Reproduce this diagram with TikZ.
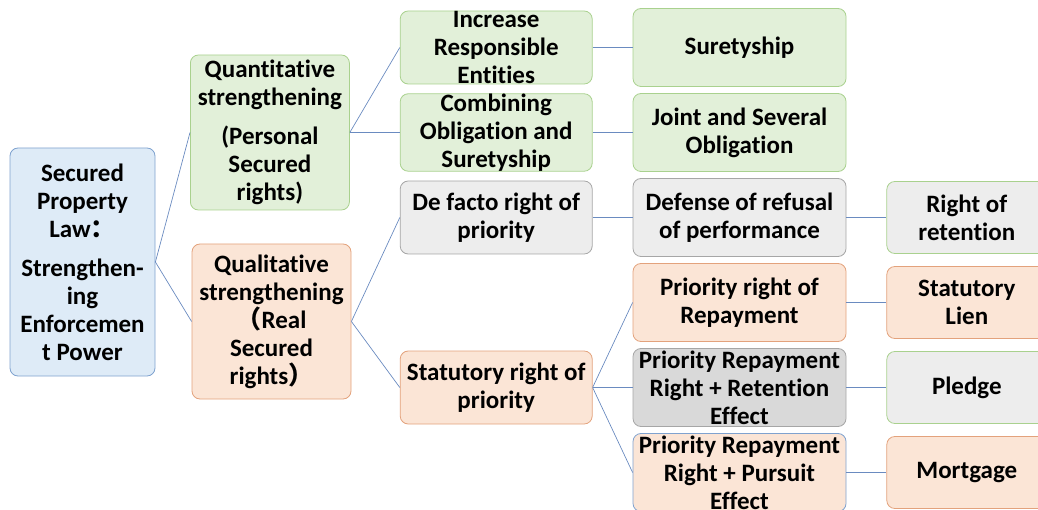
\documentclass[tikz,border=0pt]{standalone}
\usepackage{fontspec}
\setmainfont{Carlito}[Ligatures=NoCommon]
\newfontfamily\cjk{Noto Sans CJK SC}
\usetikzlibrary{positioning}

\definecolor{bluefill}{HTML}{DEEBF7}
\definecolor{blueline}{HTML}{7FA2CF}
\definecolor{greenfill}{HTML}{E2F0D9}
\definecolor{greenline}{HTML}{A9D18E}
\definecolor{orangefill}{HTML}{FBE5D6}
\definecolor{orangeline}{HTML}{E3A27C}
\definecolor{greyfill}{HTML}{EDEDED}
\definecolor{greyline}{HTML}{A6A6A6}
\definecolor{darkfill}{HTML}{D9D9D9}
\definecolor{linkcolor}{HTML}{6A8BC0}

\begin{document}
\begin{tikzpicture}[x=1pt,y=-1pt,node distance=85pt,
                    every node/.style={draw,align=center,inner sep=0pt,
                      rounded corners=8pt,line width=0.8pt,
                      font=\fontsize{25}{28}\selectfont\bfseries}]
  \tikzstyle{bluebox}=[fill=bluefill,draw=blueline]
  \tikzstyle{greenbox}=[fill=greenfill,draw=greenline]
  \tikzstyle{orangebox}=[fill=orangefill,draw=orangeline]
  \tikzstyle{greybox}=[fill=greyfill,draw=greyline]
  \tikzstyle{darkbox}=[fill=darkfill,draw=greyline]
  \tikzstyle{outer}=[minimum width=213pt,minimum height=78pt]
  \tikzstyle{inner}=[minimum width=192pt,minimum height=73pt]
  \tikzstyle{leaf}=[minimum width=160pt,minimum height=72pt]
  \tikzstyle{link}=[draw=linkcolor,line width=0.7pt]

  \useasboundingbox (0,0) rectangle (1038,510);

  % third column
  \node[greenbox,outer]  (sure) at (739.5,47.5) {Suretyship};
  \node[greenbox,outer]  (joint)   [below of=sure]    {Joint and Several\\Obligation};
  \node[greybox,outer]   (defense) [below of=joint]   {Defense of refusal\\of performance};
  \node[orangebox,outer] (prio)    [below of=defense] {Priority right of\\Repayment};
  \node[darkbox,outer]   (reten)   [below of=prio]    {Priority Repayment\\Right + Retention\\Effect};
  \node[orangebox,outer,draw=blueline] (pursuit) [below of=reten] {Priority Repayment\\Right + Pursuit\\Effect};

  % second column
  \node[greenbox,inner]  (incr)    [left=40pt of sure]    {Increase\\Responsible\\Entities};
  \node[greenbox,inner]  (comb)    [left=40pt of joint]   {Combining\\Obligation and\\Suretyship};
  \node[greybox,inner]   (defacto) [left=40pt of defense] {De facto right of\\priority};
  \node[orangebox,inner] (stat)    [left=40pt of reten]   {Statutory right of\\priority};

  % last column
  \node[greybox,leaf,draw=greenline] (retain) [right=40pt of defense] {Right of\\retention};
  \node[orangebox,leaf] (lien)   [right=40pt of prio]    {Statutory\\Lien};
  \node[greybox,leaf,draw=greenline] (pledge) [right=40pt of reten] {Pledge};
  \node[orangebox,leaf] (mort)   [right=40pt of pursuit] {Mortgage};

  % first columns
  \node[greenbox,minimum width=159pt,minimum height=155pt] (quant) [left=50pt of comb]
    {Quantitative\\strengthening\\[11pt](Personal\\Secured\\rights)};
  \node[orangebox,minimum width=159pt,minimum height=155pt] (qual) at (271.5,321.5)
    {Qualitative\\strengthening\\{\cjk （}Real\\Secured\\rights{\cjk ）}};
  \node[bluebox,minimum width=145pt,minimum height=228pt] (root) at (82.5,262)
    {Secured\\Property\\Law{\cjk ：}\\[11pt]Strengthen-\\ing\\Enforcemen\\t Power};

  \path[link] (root.east) edge (quant.west)
                          edge (qual.west)
              (quant.east) edge (incr.west)
                           edge (comb.west)
              (qual.east) edge (defacto.west)
                          edge (stat.west)
              (incr.east) edge (sure.west)
              (comb.east) edge (joint.west)
              (defacto.east) edge (defense.west)
              (stat.east) edge (prio.west)
                          edge (reten.west)
                          edge (pursuit.west)
              (defense.east) edge (retain.west)
              (prio.east) edge (lien.west)
              (reten.east) edge (pledge.west)
              (pursuit.east) edge (mort.west);
\end{tikzpicture}
\end{document}
